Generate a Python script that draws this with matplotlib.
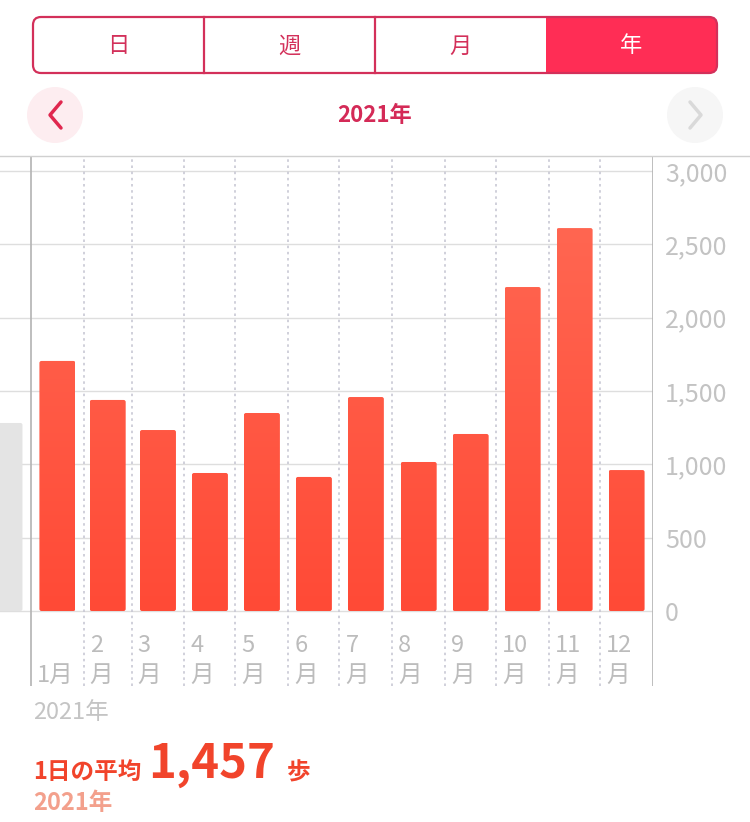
import matplotlib.pyplot as plt
import numpy as np
from matplotlib.patches import FancyBboxPatch, Rectangle, Circle
from matplotlib.colors import LinearSegmentedColormap

plt.rcParams['font.family'] = ['Noto Sans CJK JP', 'DejaVu Sans']

# data
tabs = ['日', '週', '月', '年']
month_num = ['', '2', '3', '4', '5', '6', '7', '8', '9', '10', '11', '12']
month_kanji = ['1月', '月', '月', '月', '月', '月', '月', '月', '月', '月', '月', '月']
days_in_month = [31, 28, 31, 30, 31, 30, 31, 31, 30, 31, 30, 31]
steps = [1705, 1439, 1234, 941, 1350, 914, 1459, 1016, 1207, 2209, 2611, 961]
prev_dec = 1282
yticks = [0, 500, 1000, 1500, 2000, 2500, 3000]
avg_steps = 1457
year_label = '2021年'

starts = np.concatenate([[0], np.cumsum(days_in_month)[:-1]])
centers = starts + np.array(days_in_month) / 2

px_day = 622 / 365
px_step = 73.33 / 500
bar_w = 36 / px_day

fig = plt.figure(figsize=(7.5, 8.22), dpi=100)
ax = fig.add_axes([0, 136 / 822, 653 / 750, 530 / 822])
x0 = -31 / px_day
for s in ax.spines.values():
    s.set_visible(False)

# grid
for t in yticks:
    ax.plot([x0, 365], [t, t], color='#dedede', lw=1, zorder=1)
ax.axvline(0, color='#b3b3b3', lw=1.2, zorder=2)
ax.axvline(365, color='#b3b3b3', lw=1.2, zorder=2)
for s in starts[1:]:
    ax.axvline(s, color='#c8c8d4', lw=1.2, ls=(0, (1.5, 2.2)), zorder=2)

# bars with a gradient running over the value range
cmap = LinearSegmentedColormap.from_list('bar', ['#ff4a36', '#ff6651'])
grad = np.linspace(0, 1, 256).reshape(-1, 1)
top = max(steps)
asp = (2 / px_step) / (2 / px_day)
prev = FancyBboxPatch((-5 - bar_w, 0), bar_w, prev_dec,
                      boxstyle='round,pad=0,rounding_size=1.2',
                      mutation_aspect=asp, fc='#e4e4e4', ec='none', zorder=3)
ax.add_patch(prev)
for c, v in zip(centers, steps):
    rect = FancyBboxPatch((c - bar_w / 2, 0), bar_w, v,
                          boxstyle='round,pad=0,rounding_size=1.2',
                          mutation_aspect=asp, fc='none', ec='none')
    ax.add_patch(rect)
    im = ax.imshow(grad, extent=[c - bar_w / 2, c + bar_w / 2, 0, top],
                   aspect='auto', cmap=cmap, origin='lower', zorder=3)
    im.set_clip_path(rect)
ax.set_xlim(x0, 365)
ax.set_ylim(-75 / px_step, 455 / px_step)

ax.yaxis.tick_right()
ax.set_yticks(yticks)
ax.set_yticklabels([f'{t:,}' for t in yticks])
ax.tick_params(axis='y', length=0, pad=8.5, labelsize=18, labelcolor='#c3c3c3')
ax.set_xticks([])

for s, a, b in zip(starts, month_num, month_kanji):
    ax.text(s + 3.5, -232, a, fontsize=17, color='#bcbcbc', va='center', ha='left')
    ax.text(s + 3.5, -436, b, fontsize=17, color='#bcbcbc', va='center', ha='left')

# overlay in pixel coordinates
ov = fig.add_axes([0, 0, 1, 1])
ov.set_xlim(0, 750)
ov.set_ylim(822, 0)
ov.axis('off')

pink = '#ff2d55'
crimson = '#d3305a'
ov.add_patch(FancyBboxPatch((546, 17), 171, 56, boxstyle='round,pad=0,rounding_size=8',
                            fc=pink, ec='none'))
ov.add_patch(Rectangle((546, 17), 20, 56, fc=pink, ec='none'))
ov.add_patch(FancyBboxPatch((33, 17), 684, 56, boxstyle='round,pad=0,rounding_size=8',
                            fc='none', ec=crimson, lw=1.6))
for xd in [204, 375]:
    ov.plot([xd, xd], [17, 73], color=crimson, lw=1.6)
for i, t in enumerate(tabs):
    ov.text(33 + 171 * (i + 0.5), 46, t, fontsize=16, ha='center', va='center',
            color='white' if i == 3 else crimson)

ov.add_patch(Circle((55, 115), 28, fc='#fdedf0', ec='none'))
ov.plot([61, 50, 61], [102, 115, 128], color='#e0284f', lw=2.5, solid_capstyle='round')
ov.add_patch(Circle((695, 115), 28, fc='#f6f6f6', ec='none'))
ov.plot([690, 701, 690], [102, 115, 128], color='#d9d9d9', lw=2.5, solid_capstyle='round')
ov.text(375, 115, year_label, fontsize=16, fontweight='bold', color='#d42a57',
        ha='center', va='center')

ov.plot([0, 750], [156, 156], color='#d0d0d0', lw=1)

ov.text(33, 712, year_label, fontsize=17, color='#c4c4c4', ha='left', va='center')
ov.text(33, 772, '1日の平均', fontsize=17, fontweight='bold', color='#f1442b',
        ha='left', va='center')
ov.text(148, 764, f'{avg_steps:,}', fontsize=34, fontweight='bold', color='#f1442b',
        ha='left', va='center')
ov.text(287, 772, '歩', fontsize=17, fontweight='bold', color='#f1442b',
        ha='left', va='center')
ov.text(33, 803, year_label, fontsize=17, fontweight='bold', color='#f3a08c',
        ha='left', va='center')

fig.savefig('out.png', dpi=100)
